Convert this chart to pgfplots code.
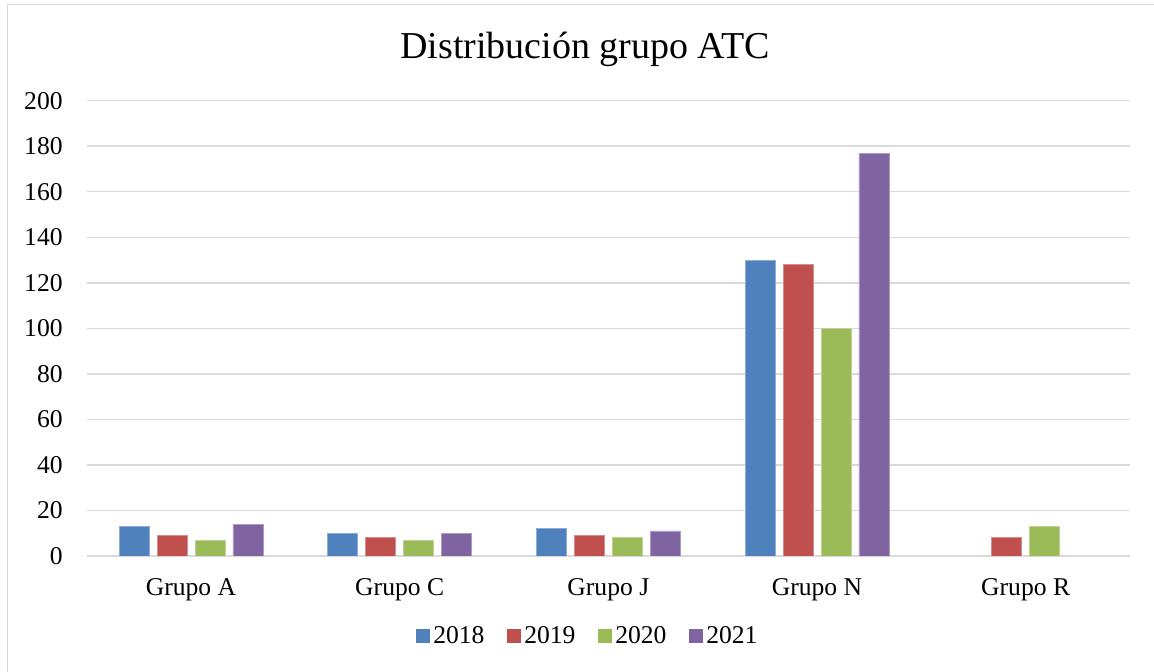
\documentclass[border=0pt]{standalone}
\usepackage{fontspec}
\setmainfont{Liberation Serif}
\usepackage{pgfplots}
\pgfplotsset{compat=1.18}
\definecolor{c18}{HTML}{4F81BD}
\definecolor{c19}{HTML}{C0504D}
\definecolor{c20}{HTML}{9BBB59}
\definecolor{c21}{HTML}{8064A2}
\definecolor{gridc}{HTML}{D9D9D9}
\pgfplotsset{
  mybar/.style={ybar, bar width=0.1438, fill=#1, draw=#1!65!white, line width=0.4pt,
    legend image code/.code={\fill[#1] (-1.5pt,-3.25pt) rectangle (5pt,3.25pt);}},
}
\begin{document}
\begin{tikzpicture}
\path[use as bounding box] (-43.35pt,-58pt) rectangle (533.65pt,278pt);
\begin{axis}[
  at={(0,0)}, anchor=south west, scale only axis,
  width=521.65pt, height=227.65pt,
  xmin=-0.5, xmax=4.5, ymin=0, ymax=200,
  ytick={0,20,...,200},
  xtick={0,1,2,3,4},
  xticklabels={Grupo A, Grupo C, Grupo J, Grupo N, Grupo R},
  axis line style={draw=none},
  major tick style={draw=none},
  ymajorgrids, grid style={gridc, line width=0.75pt},
  tick label style={font=\fontsize{12.8}{14}\selectfont},
  xticklabel style={yshift=-7.5pt},
  yticklabel style={xshift=-8.5pt},
  /pgf/number format/assume math mode=true,
  title={Distribución grupo ATC},
  title style={at={(0.4776,1.087)}, anchor=center, font=\fontsize{19}{22}\selectfont},
  legend style={at={(0.481,-0.1757)}, anchor=center, draw=none, legend columns=4,
    font=\fontsize{12.8}{14}\selectfont,
    /tikz/every even column/.append style={column sep=9pt}},
]
\addplot[mybar=c18, bar shift=-0.2727] coordinates {(0,13) (1,10) (2,12) (3,130)};
\addplot[mybar=c19, bar shift=-0.0911] coordinates {(0,9) (1,8) (2,9) (3,128) (4,8)};
\addplot[mybar=c20, bar shift=0.0911] coordinates {(0,7) (1,7) (2,8) (3,100) (4,13)};
\addplot[mybar=c21, bar shift=0.2727] coordinates {(0,14) (1,10) (2,11) (3,177)};
\legend{2018,2019,2020,2021}
\end{axis}
\draw[gridc, line width=0.75pt] (-39.6pt,-58pt) -- (-39.6pt,275.75pt) -- (533.65pt,275.75pt);
\end{tikzpicture}
\end{document}
